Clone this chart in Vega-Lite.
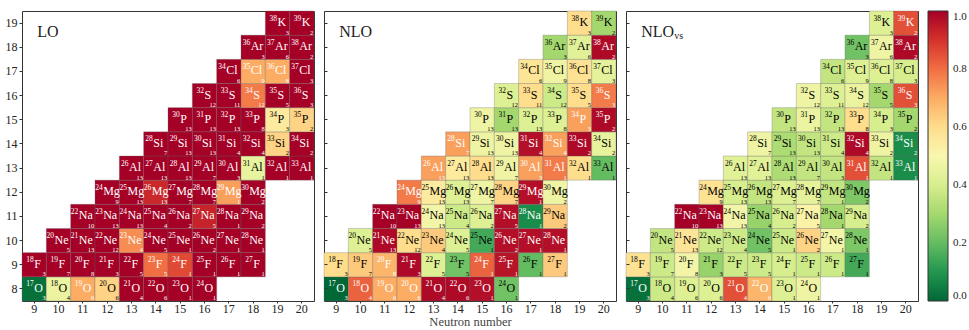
{
  "$schema": "https://vega.github.io/schema/vega-lite/v6.json",
  "background": "white",
  "padding": {"left": 4, "top": 10, "right": 0, "bottom": 0},
  "spacing": 8,
  "config": {
    "font": "Liberation Serif",
    "view": {"stroke": "#333", "strokeWidth": 1},
    "axis": {"labelFont": "Liberation Serif", "labelFontSize": 12, "labelColor": "#222", "tickColor": "#333", "domain": false, "grid": false, "titleFont": "Liberation Serif", "titleFontWeight": "normal", "titleFontSize": 12.5, "titleColor": "#444"}
  },
  "datasets": {
    "nuc": [
      {"Z":8,"N":9,"A":17,"el":"O","n":3,"lo":0.02,"nlo":0.0,"vs":0.02},
      {"Z":8,"N":10,"A":18,"el":"O","n":4,"lo":0.46,"nlo":0.82,"vs":0.38},
      {"Z":8,"N":11,"A":19,"el":"O","n":6,"lo":0.7,"nlo":0.7,"vs":0.42},
      {"Z":8,"N":12,"A":20,"el":"O","n":6,"lo":0.62,"nlo":0.7,"vs":0.42},
      {"Z":8,"N":13,"A":21,"el":"O","n":4,"lo":1.0,"nlo":0.98,"vs":0.85},
      {"Z":8,"N":14,"A":22,"el":"O","n":6,"lo":1.0,"nlo":0.98,"vs":0.68},
      {"Z":8,"N":15,"A":23,"el":"O","n":1,"lo":1.0,"nlo":0.97,"vs":0.42},
      {"Z":8,"N":16,"A":24,"el":"O","n":1,"lo":1.0,"nlo":0.22,"vs":0.47},
      {"Z":9,"N":9,"A":18,"el":"F","n":3,"lo":1.0,"nlo":0.6,"vs":0.58},
      {"Z":9,"N":10,"A":19,"el":"F","n":7,"lo":1.0,"nlo":0.64,"vs":0.38},
      {"Z":9,"N":11,"A":20,"el":"F","n":8,"lo":1.0,"nlo":0.68,"vs":0.48},
      {"Z":9,"N":12,"A":21,"el":"F","n":3,"lo":1.0,"nlo":0.98,"vs":0.28},
      {"Z":9,"N":13,"A":22,"el":"F","n":5,"lo":1.0,"nlo":0.42,"vs":0.38},
      {"Z":9,"N":14,"A":23,"el":"F","n":5,"lo":0.8,"nlo":0.22,"vs":0.38},
      {"Z":9,"N":15,"A":24,"el":"F","n":1,"lo":0.86,"nlo":0.82,"vs":0.4},
      {"Z":9,"N":16,"A":25,"el":"F","n":1,"lo":1.0,"nlo":0.96,"vs":0.38},
      {"Z":9,"N":17,"A":26,"el":"F","n":1,"lo":1.0,"nlo":0.2,"vs":0.38},
      {"Z":9,"N":18,"A":27,"el":"F","n":1,"lo":1.0,"nlo":0.64,"vs":0.15},
      {"Z":10,"N":10,"A":20,"el":"Ne","n":5,"lo":1.0,"nlo":0.42,"vs":0.36},
      {"Z":10,"N":11,"A":21,"el":"Ne","n":13,"lo":1.0,"nlo":0.98,"vs":0.57},
      {"Z":10,"N":12,"A":22,"el":"Ne","n":12,"lo":1.0,"nlo":0.6,"vs":0.38},
      {"Z":10,"N":13,"A":23,"el":"Ne","n":4,"lo":0.75,"nlo":0.64,"vs":0.38},
      {"Z":10,"N":14,"A":24,"el":"Ne","n":5,"lo":1.0,"nlo":0.42,"vs":0.22},
      {"Z":10,"N":15,"A":25,"el":"Ne","n":1,"lo":1.0,"nlo":0.15,"vs":0.38},
      {"Z":10,"N":16,"A":26,"el":"Ne","n":2,"lo":1.0,"nlo":0.97,"vs":0.62},
      {"Z":10,"N":17,"A":27,"el":"Ne","n":1,"lo":1.0,"nlo":0.97,"vs":0.48},
      {"Z":10,"N":18,"A":28,"el":"Ne","n":1,"lo":1.0,"nlo":0.97,"vs":0.24},
      {"Z":11,"N":11,"A":22,"el":"Na","n":10,"lo":1.0,"nlo":1.0,"vs":1.0},
      {"Z":11,"N":12,"A":23,"el":"Na","n":13,"lo":1.0,"nlo":1.0,"vs":1.0},
      {"Z":11,"N":13,"A":24,"el":"Na","n":13,"lo":1.0,"nlo":0.48,"vs":0.48},
      {"Z":11,"N":14,"A":25,"el":"Na","n":4,"lo":1.0,"nlo":0.38,"vs":0.28},
      {"Z":11,"N":15,"A":26,"el":"Na","n":2,"lo":1.0,"nlo":0.42,"vs":0.4},
      {"Z":11,"N":16,"A":27,"el":"Na","n":5,"lo":0.93,"nlo":0.97,"vs":0.52},
      {"Z":11,"N":17,"A":28,"el":"Na","n":1,"lo":1.0,"nlo":0.08,"vs":0.3},
      {"Z":11,"N":18,"A":29,"el":"Na","n":2,"lo":1.0,"nlo":0.64,"vs":0.4},
      {"Z":12,"N":12,"A":24,"el":"Mg","n":9,"lo":1.0,"nlo":0.78,"vs":0.58},
      {"Z":12,"N":13,"A":25,"el":"Mg","n":13,"lo":1.0,"nlo":0.55,"vs":0.4},
      {"Z":12,"N":14,"A":26,"el":"Mg","n":13,"lo":0.92,"nlo":0.42,"vs":0.36},
      {"Z":12,"N":15,"A":27,"el":"Mg","n":7,"lo":1.0,"nlo":0.47,"vs":0.42},
      {"Z":12,"N":16,"A":28,"el":"Mg","n":7,"lo":1.0,"nlo":0.62,"vs":0.44},
      {"Z":12,"N":17,"A":29,"el":"Mg","n":1,"lo":0.72,"nlo":0.97,"vs":0.36},
      {"Z":12,"N":18,"A":30,"el":"Mg","n":2,"lo":1.0,"nlo":0.47,"vs":0.24},
      {"Z":13,"N":13,"A":26,"el":"Al","n":13,"lo":1.0,"nlo":0.72,"vs":0.43},
      {"Z":13,"N":14,"A":27,"el":"Al","n":13,"lo":1.0,"nlo":0.55,"vs":0.43},
      {"Z":13,"N":15,"A":28,"el":"Al","n":13,"lo":1.0,"nlo":0.6,"vs":0.32},
      {"Z":13,"N":16,"A":29,"el":"Al","n":7,"lo":1.0,"nlo":0.47,"vs":0.36},
      {"Z":13,"N":17,"A":30,"el":"Al","n":3,"lo":1.0,"nlo":0.72,"vs":0.36},
      {"Z":13,"N":18,"A":31,"el":"Al","n":1,"lo":0.45,"nlo":0.78,"vs":0.85},
      {"Z":13,"N":19,"A":32,"el":"Al","n":1,"lo":1.0,"nlo":0.6,"vs":0.36},
      {"Z":13,"N":20,"A":33,"el":"Al","n":1,"lo":1.0,"nlo":0.2,"vs":0.08},
      {"Z":14,"N":14,"A":28,"el":"Si","n":7,"lo":1.0,"nlo":0.72,"vs":0.47},
      {"Z":14,"N":15,"A":29,"el":"Si","n":13,"lo":1.0,"nlo":0.47,"vs":0.32},
      {"Z":14,"N":16,"A":30,"el":"Si","n":13,"lo":1.0,"nlo":0.47,"vs":0.36},
      {"Z":14,"N":17,"A":31,"el":"Si","n":4,"lo":1.0,"nlo":0.97,"vs":0.38},
      {"Z":14,"N":18,"A":32,"el":"Si","n":4,"lo":1.0,"nlo":0.72,"vs":0.98},
      {"Z":14,"N":19,"A":33,"el":"Si","n":2,"lo":0.62,"nlo":0.98,"vs":0.47},
      {"Z":14,"N":20,"A":34,"el":"Si","n":2,"lo":1.0,"nlo":0.45,"vs":0.08},
      {"Z":15,"N":15,"A":30,"el":"P","n":13,"lo":1.0,"nlo":0.47,"vs":0.36},
      {"Z":15,"N":16,"A":31,"el":"P","n":13,"lo":1.0,"nlo":0.3,"vs":0.46},
      {"Z":15,"N":17,"A":32,"el":"P","n":13,"lo":1.0,"nlo":0.42,"vs":0.36},
      {"Z":15,"N":18,"A":33,"el":"P","n":8,"lo":1.0,"nlo":0.42,"vs":0.6},
      {"Z":15,"N":19,"A":34,"el":"P","n":3,"lo":0.55,"nlo":0.72,"vs":0.4},
      {"Z":15,"N":20,"A":35,"el":"P","n":2,"lo":0.62,"nlo":0.98,"vs":0.3},
      {"Z":16,"N":16,"A":32,"el":"S","n":12,"lo":1.0,"nlo":0.42,"vs":0.47},
      {"Z":16,"N":17,"A":33,"el":"S","n":11,"lo":1.0,"nlo":0.6,"vs":0.42},
      {"Z":16,"N":18,"A":34,"el":"S","n":12,"lo":0.78,"nlo":0.38,"vs":0.46},
      {"Z":16,"N":19,"A":35,"el":"S","n":5,"lo":1.0,"nlo":0.6,"vs":0.3},
      {"Z":16,"N":20,"A":36,"el":"S","n":3,"lo":1.0,"nlo":0.78,"vs":0.85},
      {"Z":17,"N":17,"A":34,"el":"Cl","n":6,"lo":1.0,"nlo":0.57,"vs":0.36},
      {"Z":17,"N":18,"A":35,"el":"Cl","n":9,"lo":0.7,"nlo":0.47,"vs":0.42},
      {"Z":17,"N":19,"A":36,"el":"Cl","n":8,"lo":0.7,"nlo":0.58,"vs":0.42},
      {"Z":17,"N":20,"A":37,"el":"Cl","n":3,"lo":1.0,"nlo":0.44,"vs":0.4},
      {"Z":18,"N":18,"A":36,"el":"Ar","n":3,"lo":1.0,"nlo":0.3,"vs":0.22},
      {"Z":18,"N":19,"A":37,"el":"Ar","n":6,"lo":1.0,"nlo":0.43,"vs":0.47},
      {"Z":18,"N":20,"A":38,"el":"Ar","n":2,"lo":1.0,"nlo":0.98,"vs":0.98},
      {"Z":19,"N":19,"A":38,"el":"K","n":3,"lo":1.0,"nlo":0.6,"vs":0.42},
      {"Z":19,"N":20,"A":39,"el":"K","n":2,"lo":1.0,"nlo":0.3,"vs":0.85}
    ]
  },
  "hconcat": [
    {
      "width": 292, "height": 290,
      "data": {"name": "nuc"},
      "encoding": {
        "x": {"field": "N", "type": "ordinal", "scale": {"domain": [9,10,11,12,13,14,15,16,17,18,19,20], "paddingInner": 0, "paddingOuter": 0}, "axis": {"title": null, "labelAngle": 0, "tickSize": 2, "labelPadding": 0}},
        "y": {"field": "Z", "type": "ordinal", "scale": {"domain": [19,18,17,16,15,14,13,12,11,10,9,8], "paddingInner": 0, "paddingOuter": 0}, "axis": {"title": null, "tickSize": 3, "labelPadding": 2}}
      },
      "layer": [
        {"mark": {"type": "rect", "stroke": "#666", "strokeWidth": 0.5, "strokeOpacity": 0.6},
         "encoding": {"color": {"field": "lo", "type": "quantitative", "scale": {"scheme": "redyellowgreen", "reverse": true, "domain": [0, 1]}, "legend": {"title": null, "orient": "right", "offset": 9, "gradientLength": 290, "gradientThickness": 20, "values": [0, 0.2, 0.4, 0.6, 0.8, 1.0], "format": ".1f", "labelFontSize": 11, "labelFont": "Liberation Serif", "labelColor": "#222", "gradientStrokeColor": "#333", "gradientStrokeWidth": 1, "labelOffset": 5}}}},
        {"transform": [{"filter": {"field": "el", "oneOf": ["O", "F", "S", "P", "K"]}}],
         "layer": [
           {"mark": {"type": "text", "fontSize": 7.5, "align": "right", "baseline": "alphabetic", "dx": -0.5, "dy": -2.5}, "encoding": {"text": {"field": "A"}, "color": {"condition": {"test": "datum.lo > 0.67 || datum.lo < 0.12", "value": "white"}, "value": "black"}}},
           {"mark": {"type": "text", "fontSize": 12, "align": "left", "baseline": "alphabetic", "dx": 0, "dy": 3}, "encoding": {"text": {"field": "el"}, "color": {"condition": {"test": "datum.lo > 0.67 || datum.lo < 0.12", "value": "white"}, "value": "black"}}}
         ]},
        {"transform": [{"filter": {"field": "el", "oneOf": ["Si", "Al", "Cl", "Ar"]}}],
         "layer": [
           {"mark": {"type": "text", "fontSize": 7.5, "align": "right", "baseline": "alphabetic", "dx": -3, "dy": -2.5}, "encoding": {"text": {"field": "A"}, "color": {"condition": {"test": "datum.lo > 0.67 || datum.lo < 0.12", "value": "white"}, "value": "black"}}},
           {"mark": {"type": "text", "fontSize": 12, "align": "left", "baseline": "alphabetic", "dx": -2.5, "dy": 3}, "encoding": {"text": {"field": "el"}, "color": {"condition": {"test": "datum.lo > 0.67 || datum.lo < 0.12", "value": "white"}, "value": "black"}}}
         ]},
        {"transform": [{"filter": {"field": "el", "oneOf": ["Mg", "Na", "Ne"]}}],
         "layer": [
           {"mark": {"type": "text", "fontSize": 7.5, "align": "right", "baseline": "alphabetic", "dx": -4.5, "dy": -2.5}, "encoding": {"text": {"field": "A"}, "color": {"condition": {"test": "datum.lo > 0.67 || datum.lo < 0.12", "value": "white"}, "value": "black"}}},
           {"mark": {"type": "text", "fontSize": 12, "align": "left", "baseline": "alphabetic", "dx": -4, "dy": 3}, "encoding": {"text": {"field": "el"}, "color": {"condition": {"test": "datum.lo > 0.67 || datum.lo < 0.12", "value": "white"}, "value": "black"}}}
         ]},
        {"mark": {"type": "text", "fontSize": 6.5, "align": "right", "baseline": "alphabetic", "dx": 11.5, "dy": 11.5},
         "encoding": {"text": {"field": "n"}, "color": {"condition": {"test": "datum.lo > 0.67 || datum.lo < 0.12", "value": "white"}, "value": "black"}}},
        {"data": {"values": [{"t": "LO"}]},
         "mark": {"type": "text", "fontSize": 16, "align": "left", "baseline": "middle", "dx": 3, "dy": 8.5, "color": "#222"},
         "encoding": {"x": {"datum": 9, "type": "ordinal"}, "y": {"datum": 19, "type": "ordinal"}, "text": {"field": "t"}}}
      ]
    },
    {
      "width": 292, "height": 290,
      "data": {"name": "nuc"},
      "encoding": {
        "x": {"field": "N", "type": "ordinal", "scale": {"domain": [9,10,11,12,13,14,15,16,17,18,19,20], "paddingInner": 0, "paddingOuter": 0}, "axis": {"title": "Neutron number", "labelAngle": 0, "tickSize": 2, "labelPadding": 0, "titlePadding": 1}},
        "y": {"field": "Z", "type": "ordinal", "scale": {"domain": [19,18,17,16,15,14,13,12,11,10,9,8], "paddingInner": 0, "paddingOuter": 0}, "axis": {"title": null, "labels": false, "tickSize": -3}}
      },
      "layer": [
        {"mark": {"type": "rect", "stroke": "#666", "strokeWidth": 0.5, "strokeOpacity": 0.6},
         "encoding": {"color": {"field": "nlo", "type": "quantitative", "scale": {"scheme": "redyellowgreen", "reverse": true, "domain": [0, 1]}, "legend": null}}},
        {"transform": [{"filter": {"field": "el", "oneOf": ["O", "F", "S", "P", "K"]}}],
         "layer": [
           {"mark": {"type": "text", "fontSize": 7.5, "align": "right", "baseline": "alphabetic", "dx": -0.5, "dy": -2.5}, "encoding": {"text": {"field": "A"}, "color": {"condition": {"test": "datum.nlo > 0.67 || datum.nlo < 0.12", "value": "white"}, "value": "black"}}},
           {"mark": {"type": "text", "fontSize": 12, "align": "left", "baseline": "alphabetic", "dx": 0, "dy": 3}, "encoding": {"text": {"field": "el"}, "color": {"condition": {"test": "datum.nlo > 0.67 || datum.nlo < 0.12", "value": "white"}, "value": "black"}}}
         ]},
        {"transform": [{"filter": {"field": "el", "oneOf": ["Si", "Al", "Cl", "Ar"]}}],
         "layer": [
           {"mark": {"type": "text", "fontSize": 7.5, "align": "right", "baseline": "alphabetic", "dx": -3, "dy": -2.5}, "encoding": {"text": {"field": "A"}, "color": {"condition": {"test": "datum.nlo > 0.67 || datum.nlo < 0.12", "value": "white"}, "value": "black"}}},
           {"mark": {"type": "text", "fontSize": 12, "align": "left", "baseline": "alphabetic", "dx": -2.5, "dy": 3}, "encoding": {"text": {"field": "el"}, "color": {"condition": {"test": "datum.nlo > 0.67 || datum.nlo < 0.12", "value": "white"}, "value": "black"}}}
         ]},
        {"transform": [{"filter": {"field": "el", "oneOf": ["Mg", "Na", "Ne"]}}],
         "layer": [
           {"mark": {"type": "text", "fontSize": 7.5, "align": "right", "baseline": "alphabetic", "dx": -4.5, "dy": -2.5}, "encoding": {"text": {"field": "A"}, "color": {"condition": {"test": "datum.nlo > 0.67 || datum.nlo < 0.12", "value": "white"}, "value": "black"}}},
           {"mark": {"type": "text", "fontSize": 12, "align": "left", "baseline": "alphabetic", "dx": -4, "dy": 3}, "encoding": {"text": {"field": "el"}, "color": {"condition": {"test": "datum.nlo > 0.67 || datum.nlo < 0.12", "value": "white"}, "value": "black"}}}
         ]},
        {"mark": {"type": "text", "fontSize": 6.5, "align": "right", "baseline": "alphabetic", "dx": 11.5, "dy": 11.5},
         "encoding": {"text": {"field": "n"}, "color": {"condition": {"test": "datum.nlo > 0.67 || datum.nlo < 0.12", "value": "white"}, "value": "black"}}},
        {"data": {"values": [{"t": "NLO"}]},
         "mark": {"type": "text", "fontSize": 16, "align": "left", "baseline": "middle", "dx": 3, "dy": 8.5, "color": "#222"},
         "encoding": {"x": {"datum": 9, "type": "ordinal"}, "y": {"datum": 19, "type": "ordinal"}, "text": {"field": "t"}}}
      ]
    },
    {
      "width": 292, "height": 290,
      "data": {"name": "nuc"},
      "encoding": {
        "x": {"field": "N", "type": "ordinal", "scale": {"domain": [9,10,11,12,13,14,15,16,17,18,19,20], "paddingInner": 0, "paddingOuter": 0}, "axis": {"title": null, "labelAngle": 0, "tickSize": 2, "labelPadding": 0}},
        "y": {"field": "Z", "type": "ordinal", "scale": {"domain": [19,18,17,16,15,14,13,12,11,10,9,8], "paddingInner": 0, "paddingOuter": 0}, "axis": {"title": null, "labels": false, "tickSize": -3}}
      },
      "layer": [
        {"mark": {"type": "rect", "stroke": "#666", "strokeWidth": 0.5, "strokeOpacity": 0.6},
         "encoding": {"color": {"field": "vs", "type": "quantitative", "scale": {"scheme": "redyellowgreen", "reverse": true, "domain": [0, 1]}, "legend": null}}},
        {"transform": [{"filter": {"field": "el", "oneOf": ["O", "F", "S", "P", "K"]}}],
         "layer": [
           {"mark": {"type": "text", "fontSize": 7.5, "align": "right", "baseline": "alphabetic", "dx": -0.5, "dy": -2.5}, "encoding": {"text": {"field": "A"}, "color": {"condition": {"test": "datum.vs > 0.67 || datum.vs < 0.12", "value": "white"}, "value": "black"}}},
           {"mark": {"type": "text", "fontSize": 12, "align": "left", "baseline": "alphabetic", "dx": 0, "dy": 3}, "encoding": {"text": {"field": "el"}, "color": {"condition": {"test": "datum.vs > 0.67 || datum.vs < 0.12", "value": "white"}, "value": "black"}}}
         ]},
        {"transform": [{"filter": {"field": "el", "oneOf": ["Si", "Al", "Cl", "Ar"]}}],
         "layer": [
           {"mark": {"type": "text", "fontSize": 7.5, "align": "right", "baseline": "alphabetic", "dx": -3, "dy": -2.5}, "encoding": {"text": {"field": "A"}, "color": {"condition": {"test": "datum.vs > 0.67 || datum.vs < 0.12", "value": "white"}, "value": "black"}}},
           {"mark": {"type": "text", "fontSize": 12, "align": "left", "baseline": "alphabetic", "dx": -2.5, "dy": 3}, "encoding": {"text": {"field": "el"}, "color": {"condition": {"test": "datum.vs > 0.67 || datum.vs < 0.12", "value": "white"}, "value": "black"}}}
         ]},
        {"transform": [{"filter": {"field": "el", "oneOf": ["Mg", "Na", "Ne"]}}],
         "layer": [
           {"mark": {"type": "text", "fontSize": 7.5, "align": "right", "baseline": "alphabetic", "dx": -4.5, "dy": -2.5}, "encoding": {"text": {"field": "A"}, "color": {"condition": {"test": "datum.vs > 0.67 || datum.vs < 0.12", "value": "white"}, "value": "black"}}},
           {"mark": {"type": "text", "fontSize": 12, "align": "left", "baseline": "alphabetic", "dx": -4, "dy": 3}, "encoding": {"text": {"field": "el"}, "color": {"condition": {"test": "datum.vs > 0.67 || datum.vs < 0.12", "value": "white"}, "value": "black"}}}
         ]},
        {"mark": {"type": "text", "fontSize": 6.5, "align": "right", "baseline": "alphabetic", "dx": 11.5, "dy": 11.5},
         "encoding": {"text": {"field": "n"}, "color": {"condition": {"test": "datum.vs > 0.67 || datum.vs < 0.12", "value": "white"}, "value": "black"}}},
        {"data": {"values": [{"t": "NLO", "s": "vs"}]},
         "layer": [
           {"mark": {"type": "text", "fontSize": 16, "align": "left", "baseline": "middle", "dx": 3, "dy": 8.5, "color": "#222"},
            "encoding": {"x": {"datum": 9, "type": "ordinal"}, "y": {"datum": 19, "type": "ordinal"}, "text": {"field": "t"}}},
           {"mark": {"type": "text", "fontSize": 10, "align": "left", "baseline": "middle", "dx": 36, "dy": 13, "color": "#222"},
            "encoding": {"x": {"datum": 9, "type": "ordinal"}, "y": {"datum": 19, "type": "ordinal"}, "text": {"field": "s"}}}
         ]}
      ]
    }
  ],
  "resolve": {"scale": {"color": "shared"}}
}
